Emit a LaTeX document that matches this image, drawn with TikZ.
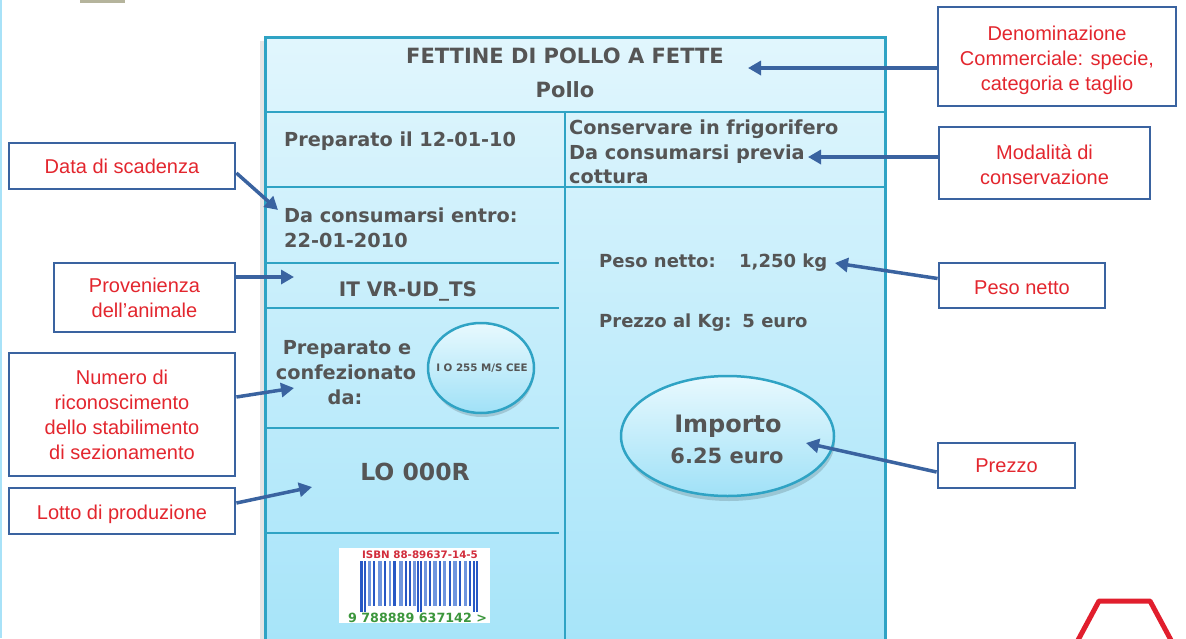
\documentclass[tikz,border=0pt]{standalone}
\usepackage{fontspec}
\setmainfont{Liberation Sans}
\newfontfamily\labfont{DejaVu Sans}
\usetikzlibrary{arrows.meta,shapes.geometric,calc}
\definecolor{callblue}{RGB}{58,99,160}
\definecolor{callred}{RGB}{227,38,46}
\definecolor{labborder}{RGB}{47,163,196}
\definecolor{labtext}{RGB}{85,85,85}
\definecolor{labtop}{RGB}{225,246,253}
\definecolor{labbot}{RGB}{166,228,249}
\definecolor{ovtop}{RGB}{232,249,254}
\definecolor{ovbot}{RGB}{160,225,247}
\definecolor{bardark}{RGB}{40,88,196}
\definecolor{barlight}{RGB}{112,150,222}
\definecolor{isbnred}{RGB}{210,45,60}
\definecolor{isbngreen}{RGB}{60,150,60}
\definecolor{hexred}{RGB}{225,30,45}
\definecolor{topgrey}{RGB}{181,180,156}
\definecolor{edgeblue}{RGB}{168,226,248}
\tikzset{
  callout/.style={draw=callblue, line width=2.8pt, fill=white, inner sep=0pt,
    text=callred, align=center, font=\fontsize{20}{25}\selectfont},
  arr/.style={draw=callblue, line width=3.5pt, -{Triangle[length=13pt,width=14pt]}},
  lab/.style={text=labtext, inner sep=0pt, font=\labfont\bfseries\fontsize{19.3}{24}\selectfont},
  labR/.style={lab, font=\labfont\bfseries\fontsize{18}{22}\selectfont},
  divider/.style={draw=labborder, line width=2.5pt},
  oval/.style={ellipse, draw=labborder, line width=2.5pt, top color=ovtop, bottom color=ovbot, inner sep=0pt}
}
\begin{document}
\begin{tikzpicture}[x=1pt,y=-1pt]
\useasboundingbox (0,0) rectangle (1186,638);
\clip (0,0) rectangle (1186,638);
% page decorations
\fill[edgeblue] (0,0) rectangle (2,638);
\fill[topgrey] (80,0) rectangle (125,2.5);
\draw[hexred, line width=5pt, line join=round] (1077,642) -- (1099,601) -- (1150,601) -- (1172,642);
% label body
\fill[black, opacity=0.10] (260,41) rectangle (265,650);
\path[draw=labborder, line width=3pt, top color=labtop, bottom color=labbot] (265,37) rectangle (885,650);
\draw[divider] (265,112) -- (885,112);
\draw[divider] (565,112) -- (565,650);
\draw[divider] (265,187) -- (885,187);
\draw[divider] (265,263) -- (559,263);
\draw[divider] (265,308) -- (559,308);
\draw[divider] (265,428) -- (559,428);
\draw[divider] (265,533) -- (559,533);
% label texts
\node[lab, font=\labfont\bfseries\fontsize{21}{25}\selectfont] (title) at (565,56) {FETTINE DI POLLO A FETTE};
\node[lab, font=\labfont\bfseries\fontsize{21}{25}\selectfont] (pollo) at (565,90) {Pollo};
\node[lab, anchor=mid west] (prep) at (284,143.5) {Preparato il 12-01-10};
\node[lab, anchor=mid west] (cons1) at (569,131.5) {Conservare in frigorifero};
\node[lab, anchor=mid west] (cons2) at (569,156.5) {Da consumarsi previa};
\node[lab, anchor=mid west] (cons3) at (569,180.5) {cottura};
\node[lab, anchor=mid west] (scad1) at (284,219.5) {Da consumarsi entro:};
\node[lab, anchor=mid west] (scad2) at (284,244.5) {22-01-2010};
\node[lab, font=\labfont\bfseries\fontsize{20}{24}\selectfont] (prov) at (408,291) {IT VR-UD\_TS};
\node[lab, anchor=mid] (pc1) at (347,351.5) {Preparato e};
\node[lab, anchor=mid] (pc2) at (346,376.5) {confezionato};
\node[lab, anchor=mid] (pc3) at (345,401.5) {da:};
\fill[black, opacity=0.15] (482,372) ellipse [x radius=52pt, y radius=45pt];
\node[oval, minimum width=106pt, minimum height=90pt] (stamp) at (481,368) {};
\node[inner sep=0pt, text=labtext, font=\labfont\bfseries\fontsize{10.3}{12}\selectfont] (stampt) at (482,368) {I O 255 M/S CEE};
\node[lab, font=\labfont\bfseries\fontsize{23.5}{28}\selectfont] (lotto) at (415,472) {LO 000R};
\node[labR, anchor=mid west] (peso) at (599,265) {Peso netto:};
\node[labR, anchor=mid west] (pesov) at (739,265) {1,250 kg};
\node[labR, anchor=mid west] (pkg) at (599,325) {Prezzo al Kg:\hspace{0.6em}5 euro};
\fill[black, opacity=0.15] (729,441) ellipse [x radius=106pt, y radius=60pt];
\node[oval, minimum width=213pt, minimum height=120pt] (imp) at (727.5,436) {};
\node[lab, font=\labfont\bfseries\fontsize{24}{28}\selectfont] (impt) at (728,426) {Importo};
\node[lab, font=\labfont\bfseries\fontsize{21}{25}\selectfont] (impv) at (727,456) {6.25 euro};
% barcode
\node[fill=white, minimum width=151pt, minimum height=75pt, inner sep=0pt] (bc) at (414.5,585.5) {};
\foreach \bx/\bw/\bcol/\bb in {360/2.5/bardark/612, 364/1.5/bardark/612, 368/3/barlight/606, 373/2/bardark/606,
  378/4/barlight/606, 384/2/bardark/606, 389/1.5/barlight/606, 393/3/bardark/606, 399/4/barlight/606,
  405/2/bardark/606, 409/1.5/bardark/606, 413/2.5/barlight/606, 417/1.5/bardark/612, 420/1.5/bardark/612,
  424/3/barlight/606, 429/2/bardark/606, 433/4/barlight/606, 439/2/bardark/606, 443/3/barlight/606,
  449/2/bardark/606, 453/4/barlight/606, 459/2/bardark/606, 464/3/barlight/606, 469/2/bardark/606,
  473/1.5/bardark/612, 476/2/bardark/612}
  \fill[\bcol] (\bx,561) rectangle ++(\bw,\bb-561);
\node[inner sep=0pt, text=isbnred, font=\labfont\bfseries\fontsize{10.3}{12}\selectfont] (isbn) at (420,555) {ISBN 88-89637-14-5};
\node[inner sep=0pt, text=isbngreen, font=\labfont\bfseries\fontsize{12.7}{14}\selectfont] (ean) at (417.5,618) {9 788889 637142 >};
% callouts
\node[callout, minimum width=238pt, minimum height=99pt] (denom) at (1057,56.5) {\rule{0pt}{22pt}Denominazione\\Commerciale: specie,\\categoria e taglio};
\node[callout, minimum width=211pt, minimum height=72pt] (moda) at (1044.5,163) {\rule{0pt}{18.5pt}Modalità di\\conservazione};
\node[callout, minimum width=166pt, minimum height=45pt] (pesoc) at (1022,285.5) {\rule{0pt}{18.5pt}Peso netto};
\node[callout, minimum width=137pt, minimum height=45pt] (prezzo) at (1006.5,465.5) {Prezzo};
\node[callout, minimum width=226pt, minimum height=46pt] (data) at (122,166) {Data di scadenza};
\node[callout, minimum width=181pt, minimum height=69pt] (provc) at (144.5,297.5) {Provenienza\\dell’animale};
\node[callout, minimum width=226pt, minimum height=123pt] (numero) at (122,414.5) {Numero di\\riconoscimento\\dello stabilimento\\di sezionamento};
\node[callout, minimum width=226pt, minimum height=46pt] (lottoc) at (122,511) {\rule{0pt}{20.5pt}Lotto di produzione};
% arrow tips
\coordinate (tDenom) at (748,68);
\coordinate (tModa) at (808,157);
\coordinate (tPeso) at (835,263);
\coordinate (tPrezzo) at (806,443);
\coordinate (tData) at (278,210);
\coordinate (tProv) at (294,277);
\coordinate (tNum) at (294,388);
\coordinate (tLotto) at (312,487);
\draw[arr] ([yshift=-11.5pt]denom.west) -- (tDenom);
\draw[arr] ([yshift=6pt]moda.west) -- (tModa);
\draw[arr] ([yshift=7pt]pesoc.west) -- (tPeso);
\draw[arr] ([yshift=-6.5pt]prezzo.west) -- (tPrezzo);
\draw[arr] ([yshift=-7pt]data.east) -- (tData);
\draw[arr] ([yshift=20.5pt]provc.east) -- (tProv);
\draw[arr] ([yshift=17.5pt]numero.east) -- (tNum);
\draw[arr] ([yshift=8pt]lottoc.east) -- (tLotto);
\end{tikzpicture}
\end{document}
